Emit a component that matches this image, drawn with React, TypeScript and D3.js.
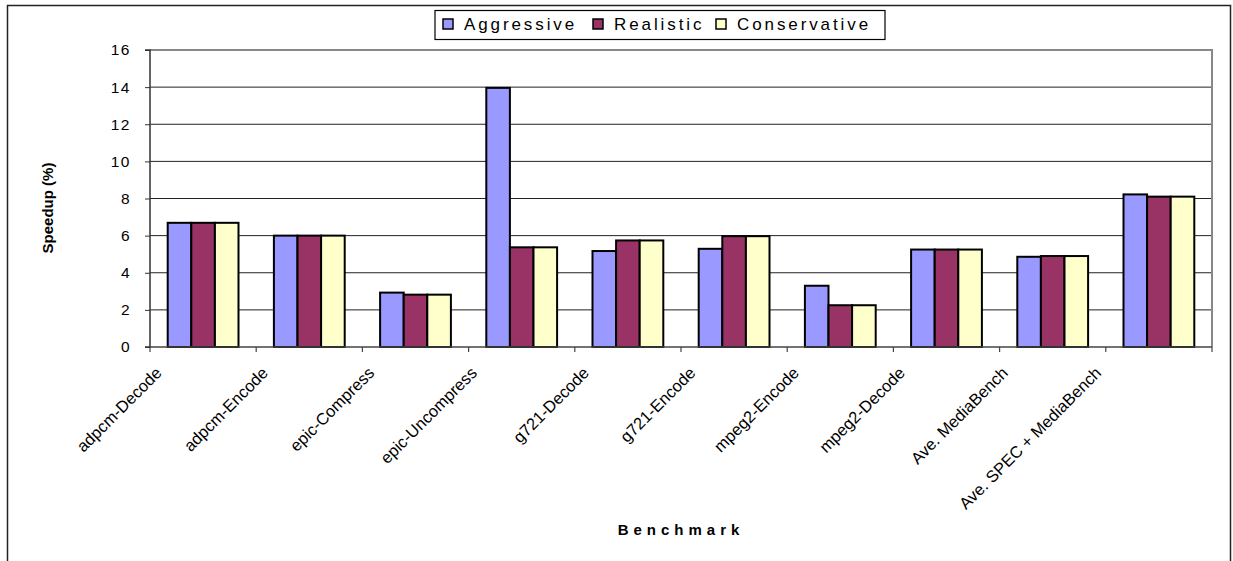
import React, { useEffect, useRef } from "react";
import * as d3 from "d3";

const categories = [
  "adpcm-Decode",
  "adpcm-Encode",
  "epic-Compress",
  "epic-Uncompress",
  "g721-Decode",
  "g721-Encode",
  "mpeg2-Encode",
  "mpeg2-Decode",
  "Ave. MediaBench",
  "Ave. SPEC + MediaBench",
];
const seriesNames = ["Aggressive", "Realistic", "Conservative"];
const aggressive = [6.69, 6.0, 2.93, 13.96, 5.17, 5.29, 3.3, 5.25, 4.86, 8.22];
const realistic = [6.69, 6.0, 2.82, 5.37, 5.74, 5.97, 2.25, 5.25, 4.9, 8.1];
const conservative = [6.69, 6.0, 2.82, 5.37, 5.74, 5.97, 2.25, 5.25, 4.9, 8.1];
const seriesColors = ["#9999FF", "#993366", "#FFFFCC"];
const yTicks = [0, 2, 4, 6, 8, 10, 12, 14, 16];

const W = 1233;
const H = 561;
const FONT = "'Liberation Sans', Arial, Helvetica, sans-serif";

export default function App() {
  const ref = useRef<SVGSVGElement>(null);

  useEffect(() => {
    const svg = d3.select(ref.current);
    svg.selectAll("*").remove();

    const left = 150;
    const right = 1212;
    const top = 50;
    const bottom = 347;

    const x0 = d3.scaleBand<string>().domain(categories).range([left, right]).padding(0);
    const x1 = d3
      .scaleBand<string>()
      .domain(seriesNames)
      .range([0, x0.bandwidth()])
      .paddingInner(0)
      .paddingOuter(0.75);
    const y = d3.scaleLinear().domain([0, 16]).range([bottom, top]);

    const values = [aggressive, realistic, conservative];

    // outer frame
    svg
      .append("path")
      .attr("d", `M7.5,${H + 2}V5.5H1230.5V${H + 2}`)
      .attr("fill", "none")
      .attr("stroke", "#222")
      .attr("stroke-width", 1.5);

    // gridlines
    svg
      .append("g")
      .selectAll("line")
      .data(yTicks.filter((t) => t > 0 && t < 16))
      .join("line")
      .attr("x1", left)
      .attr("x2", right)
      .attr("y1", (d) => y(d))
      .attr("y2", (d) => y(d))
      .attr("stroke", "#222")
      .attr("stroke-width", 1);

    // plot area border (top and right)
    svg
      .append("path")
      .attr("d", `M${left},${y(16)}H${right}V${bottom}`)
      .attr("fill", "none")
      .attr("stroke", "#888")
      .attr("stroke-width", 2);

    // bars
    const groups = svg
      .append("g")
      .selectAll("g")
      .data(categories)
      .join("g")
      .attr("transform", (d) => `translate(${x0(d)},0)`);

    groups
      .selectAll("rect")
      .data((_, i) => seriesNames.map((s, si) => ({ s, si, v: values[si][i] })))
      .join("rect")
      .attr("x", (d) => x1(d.s)!)
      .attr("width", x1.bandwidth())
      .attr("y", (d) => y(d.v))
      .attr("height", (d) => y(0) - y(d.v))
      .attr("fill", (d) => seriesColors[d.si])
      .attr("stroke", "#000")
      .attr("stroke-width", 2);

    // y axis
    const yAxis = d3
      .axisLeft(y)
      .tickValues(yTicks)
      .tickSize(5)
      .tickFormat(d3.format("d"));
    const gy = svg.append("g").attr("transform", `translate(${left},0)`).call(yAxis);
    gy.select(".domain").attr("stroke", "#333").attr("stroke-width", 1.5).attr("d", `M-5,${top}H0V${bottom}H-5`);
    gy.selectAll(".tick line").attr("stroke", "#333");
    gy.selectAll(".tick text")
      .attr("x", -19)
      .attr("font-family", FONT)
      .attr("font-size", 15.5)
      .attr("letter-spacing", 1.5)
      .attr("fill", "#000");

    // x axis
    const boundaries = categories.map((c) => x0(c)!).concat([right]);
    svg
      .append("line")
      .attr("x1", left)
      .attr("x2", right)
      .attr("y1", bottom)
      .attr("y2", bottom)
      .attr("stroke", "#444")
      .attr("stroke-width", 1.5);
    svg
      .append("g")
      .selectAll("line")
      .data(boundaries)
      .join("line")
      .attr("x1", (d) => d)
      .attr("x2", (d) => d)
      .attr("y1", bottom)
      .attr("y2", bottom + 5)
      .attr("stroke", "#444")
      .attr("stroke-width", 1.2);

    // category labels
    const labels = svg
      .append("g")
      .selectAll("text")
      .data(categories)
      .join("text")
      .attr("text-anchor", "end")
      .attr("font-family", FONT)
      .attr("font-size", 16.5)
      .attr("fill", "#000")
      .text((d) => d);
    labels.each(function (d) {
      const node = this as SVGTextElement;
      const len = node.getComputedTextLength();
      const cx = x0(d)! + x0.bandwidth() / 2;
      const ax = cx - 18 - 0.2 * len;
      d3.select(node).attr("transform", `translate(${ax},374) rotate(-45)`);
    });

    // axis titles
    svg
      .append("text")
      .attr("x", 681)
      .attr("y", 535)
      .attr("text-anchor", "middle")
      .attr("font-family", FONT)
      .attr("font-size", 15)
      .attr("font-weight", "bold")
      .attr("letter-spacing", 5)
      .text("Benchmark");
    svg
      .append("text")
      .attr("transform", "translate(53,208) rotate(-90)")
      .attr("text-anchor", "middle")
      .attr("font-family", FONT)
      .attr("font-size", 15)
      .attr("font-weight", "bold")
      .text("Speedup (%)");

    // legend
    const lg = svg.append("g");
    lg.append("rect")
      .attr("x", 435)
      .attr("y", 10.5)
      .attr("width", 450)
      .attr("height", 29)
      .attr("fill", "#fff")
      .attr("stroke", "#000")
      .attr("stroke-width", 1.2);
    const legendX = [443, 593, 716];
    const items = lg
      .selectAll("g.item")
      .data(seriesNames)
      .join("g")
      .attr("class", "item")
      .attr("transform", (_, i) => `translate(${legendX[i]},0)`);
    items
      .append("rect")
      .attr("x", 0)
      .attr("y", 19)
      .attr("width", 10)
      .attr("height", 10)
      .attr("fill", (_, i) => seriesColors[i])
      .attr("stroke", "#000")
      .attr("stroke-width", 1.5);
    items
      .append("text")
      .attr("x", 21)
      .attr("y", 30)
      .attr("font-family", FONT)
      .attr("font-size", 17)
      .attr("letter-spacing", 2.9)
      .attr("fill", "#000")
      .text((d) => d);
  }, []);

  return (
    <svg
      ref={ref}
      width={W}
      height={H}
      style={{ position: "absolute", left: 0, top: 0, background: "#fff" }}
    />
  );
}
